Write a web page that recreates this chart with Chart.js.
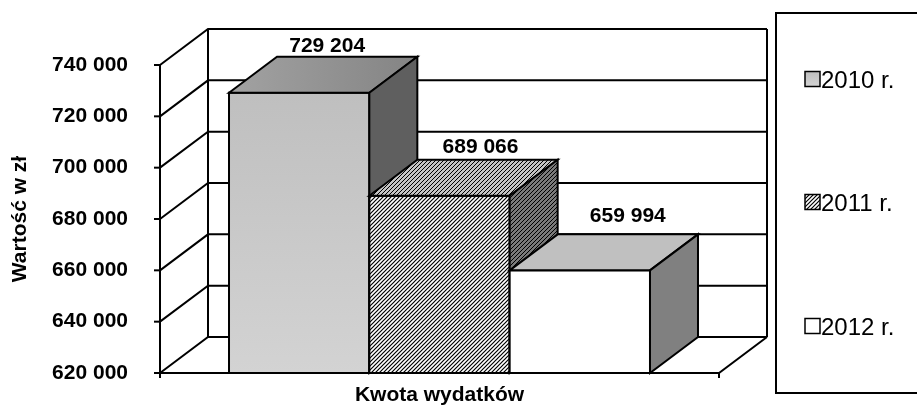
<!DOCTYPE html>
<html><head><meta charset="utf-8">
<script src="https://cdn.jsdelivr.net/npm/chart.js@4.4.1/dist/chart.umd.min.js"></script>
<style>html,body{margin:0;padding:0;background:#fff;overflow:hidden}canvas{display:block}</style>
</head><body>
<canvas id="c" width="917" height="405"></canvas>
<script>
// ---- data ----
const categories = ['Kwota wydatków'];
const seriesNames = ['2010 r.', '2011 r.', '2012 r.'];
const values2010 = [729204];
const values2011 = [689066];
const values2012 = [659994];
const yTicks = [620000, 640000, 660000, 680000, 700000, 720000, 740000];
const yAxisTitle = 'Wartość w zł';

// ---- styling ----
const FONT = '"Liberation Sans", Arial, Helvetica, sans-serif';
const DX = 48, DY = -36;
const labelOffsets = [[28, -5], [41, -7], [48, -12]];

function fmt(v) { return String(v).replace(/\B(?=(\d{3})+(?!\d))/g, ' '); }

const patCache = {};
function hatch(ctx, bg, lw) {
  const key = bg + '|' + lw;
  if (patCache[key]) return patCache[key];
  const c = document.createElement('canvas'); c.width = 4; c.height = 4;
  const g = c.getContext('2d');
  g.fillStyle = bg; g.fillRect(0, 0, 4, 4);
  g.strokeStyle = '#000'; g.lineWidth = lw;
  g.beginPath();
  g.moveTo(-1, 5); g.lineTo(5, -1);
  g.moveTo(-1, 1); g.lineTo(1, -1);
  g.moveTo(3, 5); g.lineTo(5, 3);
  g.stroke();
  return (patCache[key] = ctx.createPattern(c, 'repeat'));
}
function grayFront(ctx, area) {
  const g = ctx.createLinearGradient(0, area.top, 0, area.bottom);
  g.addColorStop(0, '#bdbdbd'); g.addColorStop(1, '#d3d3d3');
  return g;
}
function frontFill(i, chart) {
  const ctx = chart.ctx, area = chart.chartArea;
  if (i === 0) return area ? grayFront(ctx, area) : '#c4c4c4';
  if (i === 1) return hatch(ctx, '#ffffff', 1.2);
  return '#ffffff';
}
function topFill(i, ctx, x0, x1) {
  if (i === 0) {
    const g = ctx.createLinearGradient(x0, 0, x1, 0);
    g.addColorStop(0, '#a2a2a2'); g.addColorStop(1, '#848484');
    return g;
  }
  if (i === 1) return hatch(ctx, '#c4c4c4', 1.0);
  return '#c0c0c0';
}
function sideFill(i, ctx) {
  if (i === 0) return '#5f5f5f';
  if (i === 1) return hatch(ctx, '#7a7a7a', 1.0);
  return '#808080';
}

function poly(ctx, pts, fill) {
  ctx.beginPath();
  ctx.moveTo(pts[0][0], pts[0][1]);
  for (let k = 1; k < pts.length; k++) ctx.lineTo(pts[k][0], pts[k][1]);
  ctx.closePath();
  if (fill) { ctx.fillStyle = fill; ctx.fill(); }
  ctx.stroke();
}
function line(ctx, pts) {
  ctx.beginPath();
  ctx.moveTo(pts[0][0], pts[0][1]);
  for (let k = 1; k < pts.length; k++) ctx.lineTo(pts[k][0], pts[k][1]);
  ctx.stroke();
}

const threeD = {
  id: 'threeD',
  beforeDatasetsDraw(chart) {
    const ctx = chart.ctx;
    const {left, right, top, bottom} = chart.chartArea;
    const ys = chart.scales.y;
    ctx.save();
    ctx.strokeStyle = '#000'; ctx.lineWidth = 2; ctx.lineJoin = 'miter'; ctx.lineCap = 'butt';
    ys.ticks.forEach(t => {
      const py = ys.getPixelForValue(t.value);
      line(ctx, [[left, py], [left + DX, py + DY], [right + DX, py + DY]]);
      line(ctx, [[left - 6, py], [left, py]]);
    });
    line(ctx, [[left + DX, top + DY], [left + DX, bottom + DY]]);
    line(ctx, [[right + DX, top + DY], [right + DX, bottom + DY]]);
    line(ctx, [[left, top], [left, bottom]]);
    line(ctx, [[left, bottom], [right, bottom], [right + DX, bottom + DY]]);
    line(ctx, [[left, bottom], [left, bottom + 5]]);
    line(ctx, [[right, bottom], [right, bottom + 5]]);
    ctx.restore();
  },
  beforeDatasetDraw() { return false; },
  afterDatasetsDraw(chart) {
    const ctx = chart.ctx;
    ctx.save();
    ctx.strokeStyle = '#000'; ctx.lineWidth = 2; ctx.lineJoin = 'miter';
    const labels = [];
    chart.data.datasets.forEach((ds, i) => {
      const meta = chart.getDatasetMeta(i);
      meta.data.forEach((bar, j) => {
        bar.draw(ctx, chart.chartArea);
        const {x, y, base, width} = bar.getProps(['x', 'y', 'base', 'width'], true);
        const x0 = x - width / 2, x1 = x + width / 2;
        ctx.strokeRect(x0, y, width, base - y);
        poly(ctx, [[x0, y], [x0 + DX, y + DY], [x1 + DX, y + DY], [x1, y]], topFill(i, ctx, x0, x1 + DX));
        poly(ctx, [[x1, y], [x1 + DX, y + DY], [x1 + DX, base + DY], [x1, base]], sideFill(i, ctx));
        labels.push([fmt(ds.data[j]), x + labelOffsets[i][0], y + DY + labelOffsets[i][1]]);
      });
    });
    ctx.fillStyle = '#000';
    ctx.font = 'bold 21px ' + FONT;
    ctx.textAlign = 'center'; ctx.textBaseline = 'alphabetic';
    labels.forEach(l => ctx.fillText(l[0], l[1], l[2]));
    // category-axis title
    const {left, right} = chart.chartArea;
    ctx.fillText(categories[0], (left + right) / 2, 401);
    ctx.restore();
  },
  afterDraw(chart) {
    const ctx = chart.ctx;
    ctx.save();
    ctx.strokeStyle = '#000'; ctx.lineWidth = 2;
    ctx.strokeRect(776, 13, 170, 380);
    const centers = [79, 202, 326];
    ctx.font = '24px ' + FONT;
    ctx.textAlign = 'left'; ctx.textBaseline = 'alphabetic';
    chart.data.datasets.forEach((ds, i) => {
      const cy = centers[i];
      const sx = 805, sy = cy - 7.5, s = 15;
      let f;
      if (i === 0) { f = ctx.createLinearGradient(0, sy, 0, sy + s); f.addColorStop(0, '#bdbdbd'); f.addColorStop(1, '#d3d3d3'); }
      else if (i === 1) f = hatch(ctx, '#ffffff', 1.2);
      else f = '#ffffff';
      ctx.fillStyle = f; ctx.fillRect(sx, sy, s, s);
      ctx.lineWidth = 1.5; ctx.strokeRect(sx, sy, s, s);
      ctx.fillStyle = '#000';
      ctx.fillText(ds.label, sx + s + 1, cy + 8.5);
    });
    ctx.restore();
  }
};

const ctx = document.getElementById('c').getContext('2d');
const chart = new Chart(ctx, {
  type: 'bar',
  data: {
    labels: categories,
    datasets: [
      {label: seriesNames[0], data: values2010, backgroundColor: c => frontFill(0, c.chart)},
      {label: seriesNames[1], data: values2011, backgroundColor: c => frontFill(1, c.chart)},
      {label: seriesNames[2], data: values2012, backgroundColor: c => frontFill(2, c.chart)}
    ]
  },
  options: {
    responsive: false, animation: false, devicePixelRatio: 1,
    layout: {padding: {left: 0, top: 65, right: 198, bottom: 32}},
    datasets: {bar: {categoryPercentage: 0.7531, barPercentage: 1, borderWidth: 0, base: yTicks[0]}},
    plugins: {legend: {display: false}, tooltip: {enabled: false}},
    scales: {
      x: {display: false},
      y: {
        min: 620000, max: 740000,
        grid: {display: false, drawTicks: false}, border: {display: false},
        afterBuildTicks(s) { s.ticks = yTicks.map(v => ({value: v})); },
        ticks: {color: '#000', padding: 32, font: {size: 21, weight: 'bold', family: FONT}, callback: v => fmt(v)},
        title: {display: true, text: yAxisTitle, color: '#000',
          font: {size: 21, weight: 'bold', family: FONT}, padding: {top: 8, bottom: 0}},
        afterFit(s) { s.width = 160; s.paddingTop = 0; s.paddingBottom = 0; }
      }
    }
  },
  plugins: [threeD]
});
</script>
</body></html>
